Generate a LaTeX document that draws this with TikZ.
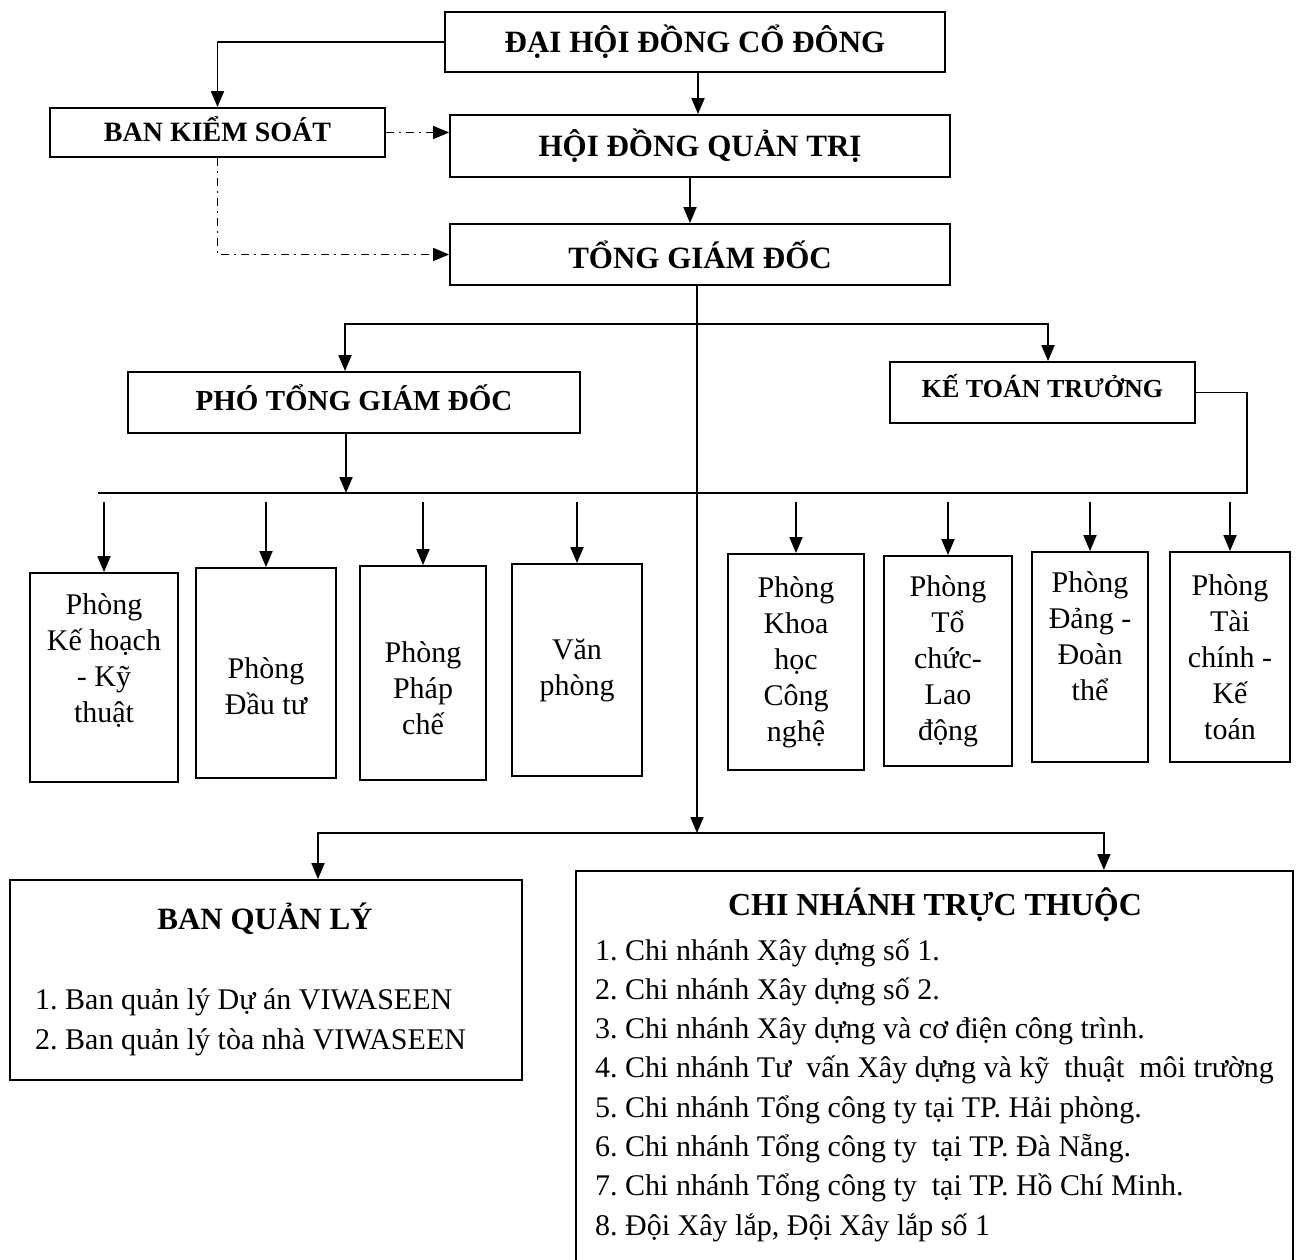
\documentclass[tikz,border=0pt]{standalone}
\usepackage{fontspec}
\setmainfont{Liberation Serif}
\usetikzlibrary{arrows.meta, positioning}
\frenchspacing
% invisible struts to move text inside a box
\newcommand{\lowpad}[1]{\rule[-#1pt]{0pt}{0pt}}
\newcommand{\toppad}[1]{\rule{0pt}{#1pt}}

\begin{document}
\begin{tikzpicture}[x=1pt, y=-1pt,
            box/.style={draw=black, line width=1.8pt, inner sep=0pt},
            hd/.style={font=\bfseries\fontsize{31}{36}\selectfont},
            dept/.style={box, align=center, font=\fontsize{30}{36}\selectfont},
            item/.style={inner sep=0pt, font=\fontsize{30}{39}\selectfont},
            ln/.style={draw=black, line width=1.8pt},
            arr/.style={ln, -{Triangle[length=16pt, width=13pt]}},
            dd/.style={arr, line width=1.5pt, dash pattern=on 8pt off 5pt on 2pt off 5pt}]
            \useasboundingbox (0,0) rectangle (1312,1260);
            \fill[white] (0,0) rectangle (1312,1260);
            \clip (0,0) rectangle (1312,1260);
            % top levels
            \node[box, hd, minimum width=500, minimum height=60] (dhdcd) at (695,42)      {ĐẠI HỘI ĐỒNG CỔ ĐÔNG};
            \node[box, hd, font=\bfseries\fontsize{28}{34}\selectfont,
                  minimum width=335, minimum height=49] (bks) at (217.5,132.5)         {BAN KIỂM SOÁT\lowpad{6}};
            \node[box, hd, minimum width=500, minimum height=62] (hdqt) at (700,146)      {HỘI ĐỒNG QUẢN TRỊ};
            \node[box, hd, minimum width=500, minimum height=61] (tgd) at (700,254.5)     {TỔNG GIÁM ĐỐC};
            \node[box, hd, font=\bfseries\fontsize{29}{34}\selectfont,
                  minimum width=452, minimum height=61] (ptgd) at (354,402.5)          {PHÓ TỔNG GIÁM ĐỐC\lowpad{9}};
            \node[box, hd, font=\bfseries\fontsize{26}{32}\selectfont,
                  minimum width=305, minimum height=61] (ktt) at (1042.5,392.5)        {KẾ TOÁN TRƯỞNG\lowpad{13}};
            % departments
            \node[dept, minimum width=148, minimum height=209] (p1) at (104,677.5)  {Phòng\\Kế hoạch\\- Kỹ\\thuật\lowpad{39}};
            \node[dept, minimum width=140, minimum height=210] (p2) at (266,673)    {\toppad{47}Phòng\\Đầu tư};
            \node[dept, minimum width=126, minimum height=214] (p3) at (423,673)    {\toppad{51}Phòng\\Pháp\\chế};
            \node[dept, minimum width=130, minimum height=212] (p4) at (577,670)    {Văn\\phòng};
            \node[dept, minimum width=136, minimum height=216] (p5) at (796,662)    {Phòng\\Khoa\\học\\Công\\nghệ};
            \node[dept, minimum width=128, minimum height=210] (p6) at (948,661)    {Phòng\\Tổ\\chức-\\Lao\\động};
            \node[dept, minimum width=116, minimum height=210] (p7) at (1090,657)   {Phòng\\Đảng -\\Đoàn\\thể\lowpad{42}};
            \node[dept, minimum width=120, minimum height=210] (p8) at (1230,657)   {Phòng\\Tài\\chính -\\Kế\\toán};
            % bottom boxes
            \node[box, minimum width=512, minimum height=200] (bql) at (266,980) {};
            \node[box, minimum width=717, minimum height=410, anchor=north west] (cn) at (575,870) {};
            \node[hd, anchor=base] (bqlT) at (265,929) {BAN QUẢN LÝ};
            \foreach \t [count=\i from 0] in {{1. Ban quản lý Dự án VIWASEEN},
                                              {2. Ban quản lý tòa nhà VIWASEEN}}
                { \node[item, anchor=base west] (bq\i) at (35,1009+40*\i) {\t}; }
            \node[hd, font=\bfseries\fontsize{32}{36}\selectfont, anchor=base] (cnT) at (935,915) {CHI NHÁNH TRỰC THUỘC};
            \foreach \t [count=\i from 0] in {{1. Chi nhánh Xây dựng số 1.},
                                              {2. Chi nhánh Xây dựng số 2.},
                                              {3. Chi nhánh Xây dựng và cơ điện công trình.},
                                              {4. Chi nhánh Tư\ \ vấn Xây dựng và kỹ\ \ thuật\ \ môi trường},
                                              {5. Chi nhánh Tổng công ty tại TP. Hải phòng.},
                                              {6. Chi nhánh Tổng công ty\ \ tại TP. Đà Nẵng.},
                                              {7. Chi nhánh Tổng công ty\ \ tại TP. Hồ Chí Minh.},
                                              {8. Đội Xây lắp, Đội Xây lắp số 1}}
                { \node[item, anchor=base west] (cn\i) at (595,960+39.3*\i) {\t}; }
            % connectors
            \coordinate (tj) at (697,324);
            \coordinate (bj) at (697,833);
            \coordinate (bus) at (346,493);
            \coordinate (busR) at (1247,493);
            \draw[arr] (dhdcd.west) -| (bks.north);
            \draw[arr] ([xshift=3]dhdcd.south) -- ([xshift=3]dhdcd.south |- hdqt.north);
            \draw[arr] ([xshift=-10]hdqt.south) -- ([xshift=-10]hdqt.south |- tgd.north);
            \draw[dd] (bks.east) -- (bks.east -| hdqt.west);
            \draw[dd] (bks.south) |- (tgd.west);
            \draw[arr] (tgd.south -| bj) -- (bj);
            \draw[arr] (tj) -| ([xshift=-9]ptgd.north);
            \draw[arr] (tj) -| ([xshift=5.5]ktt.north);
            \draw[arr] (ptgd.south -| bus) -- (bus);
            \draw[ln] ([xshift=-6]p1.north |- bus) -- (busR) |- (ktt.east);
            \foreach \p in {p1,p2,p3,p4,p5,p6,p7,p8}
                { \draw[arr, shorten <=9pt] (\p.north |- bus) -- (\p.north); }
            \draw[arr] (bj) -| ([xshift=52]bql.north);
            \draw[arr] (bj) -| ([xshift=169.5]cn.north);
        \end{tikzpicture}
\end{document}
